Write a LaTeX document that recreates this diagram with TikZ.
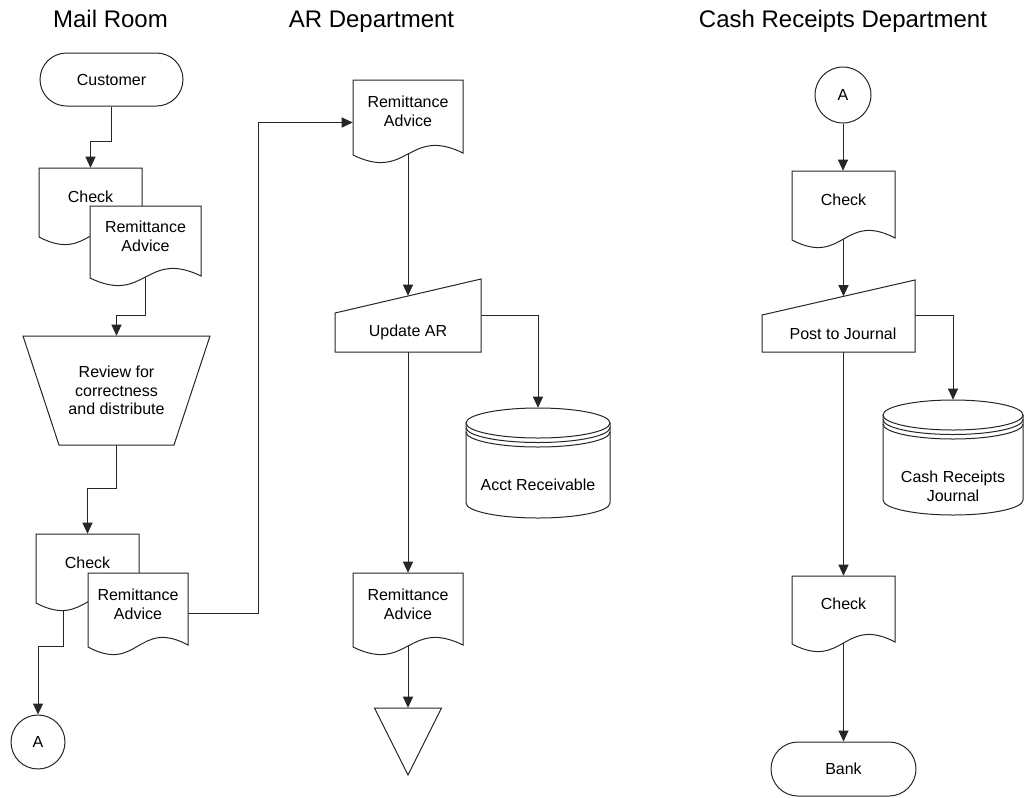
\documentclass[tikz,border=0pt]{standalone}
\usepackage{fontspec}
\setmainfont{Liberation Sans}
\usetikzlibrary{arrows.meta,calc,shapes.misc}
\pgfdeclarelayer{background}
\pgfdeclarelayer{shapes}
\pgfsetlayers{background,shapes,main}
\definecolor{linec}{gray}{0.15}
\tikzset{
  lbl/.style={font=\fontsize{12}{14.25}\selectfont, align=center, inner sep=0pt, text=black},
  hdr/.style={font=\fontsize{18}{21}\selectfont, anchor=base, inner sep=0pt, text=black},
  boxwh/.style 2 args={minimum width=#1*0.75pt, minimum height=#2*0.75pt},
  outline/.style={draw=linec, line width=0.75pt, fill=white, line join=miter},
  arcline/.style={draw=linec, line width=0.75pt},
  term/.style={lbl, rounded rectangle, draw=linec, line width=0.75pt, fill=white},
  conncircle/.style={lbl, circle, draw=linec, line width=0.75pt, fill=white},
  conn/.style={draw=linec, line width=0.75pt, -{Triangle[length=8.25pt,width=7.5pt]}},
}
% document outline: left, top, right, bottom-left
\newcommand\docout[4]{\path[outline] (#1,#2) -- (#3,#2) -- (#3,{#4-2})
  .. controls ({(#1+#3)/2},{#4-1-28}) and ({(#1+#3)/2},{#4-1+28}) .. (#1,#4) -- cycle;}
% disk outline: cx, rx, top, bottom (ry = 15)
\newcommand\diskout[4]{%
  \path[outline] ({#1-#2},{#3+15}) -- ({#1-#2},{#4-15})
    .. controls ({#1-#2},{#4-15+8.28}) and ({#1-0.5523*#2},#4) .. (#1,#4)
    .. controls ({#1+0.5523*#2},#4) and ({#1+#2},{#4-15+8.28}) .. ({#1+#2},{#4-15})
    -- ({#1+#2},{#3+15}) -- cycle;
  \path[outline] (#1,{#3+15}) ellipse[x radius={#2*0.75pt}, y radius={15*0.75pt}];
  \foreach \dd in {4.5,9}{%
    \path[arcline] ({#1-#2},{#3+15+\dd})
      .. controls ({#1-#2},{#3+15+\dd+8.28}) and ({#1-0.5523*#2},{#3+30+\dd}) .. (#1,{#3+30+\dd})
      .. controls ({#1+0.5523*#2},{#3+30+\dd}) and ({#1+#2},{#3+15+\dd+8.28}) .. ({#1+#2},{#3+15+\dd});}%
}
\begin{document}
\begin{tikzpicture}[x=0.75pt, y=-0.75pt]
\useasboundingbox (0,0) rectangle (1025,797);

% headers
\node[hdr] (h1) at (110.5,27) {Mail Room};
\node[hdr] (h2) at (371.5,27) {AR Department};
\node[hdr] (h3) at (843,27) {Cash Receipts Department};

% Mail room
\node[term, boxwh={143}{53}] (cust) at (111.5,79.5) {Customer};
\node[lbl, boxwh={103}{57}] (chk1) at (90.5,196.5) {Check};
\node[lbl, boxwh={111}{60}] (ra1) at (145.5,236) {Remittance\\Advice};
\node[lbl, boxwh={187}{109}, font=\fontsize{12}{13.9}\selectfont] (rev) at (116.5,390.5) {Review for\\correctness\\and distribute};
\node[lbl, boxwh={103}{57}] (chk2) at (87.5,562.5) {Check};
\node[lbl, boxwh={100}{62}] (ra2) at (138,604) {Remittance\\Advice};
\node[conncircle, minimum size=54*0.75pt] (conA1) at (38,742) {A};

% AR department
\node[lbl, boxwh={110}{63}] (ar1) at (408,111.5) {Remittance\\Advice};
\node[lbl, boxwh={146}{39}] (upd) at (408,332.5) {Update AR};
\node[lbl, boxwh={144}{66}] (arDisk) at (538,485) {Acct Receivable};
\node[lbl, boxwh={110}{62}] (ar2) at (408,604) {Remittance\\Advice};
\node[lbl, boxwh={67}{67}] (file) at (408,741.5) {};

% Cash receipts
\node[conncircle, minimum size=56*0.75pt] (conA2) at (843,95) {A};
\node[lbl, boxwh={103}{57}] (chk3) at (843.5,199.5) {Check};
\node[lbl, boxwh={144}{37}] (post) at (843,333.5) {Post to Journal};
\node[lbl, boxwh={140}{58}] (crj) at (953,486) {Cash Receipts\\Journal};
\node[lbl, boxwh={103}{56}] (chk4) at (843.5,604) {Check};
\node[term, boxwh={145}{54}] (bank) at (843.5,769) {Bank};

\begin{pgfonlayer}{shapes}
  \docout{39}{168}{142}{237}
  \docout{90}{206}{201}{278}
  \path[outline] (23,336) -- (210,336) -- (174,445) -- (59,445) -- cycle;
  \docout{36}{534}{139}{603}
  \docout{88}{573}{188}{647}
  \docout{353}{80}{463}{155}
  \path[outline] (335,313) -- (481,279) -- (481,352) -- (335,352) -- cycle;
  \diskout{538}{72}{408}{518}
  \docout{353}{573}{463}{647}
  \path[outline] (374.5,708) -- (441.5,708) -- (408,775) -- cycle;
  \docout{792}{171}{895}{240}
  \path[outline] (762,315) -- (915,280) -- (915,352) -- (762,352) -- cycle;
  \diskout{953}{70}{400}{515}
  \docout{792}{576}{895}{644}
\end{pgfonlayer}

\begin{pgfonlayer}{background}
  \draw[conn] (cust.south) -- ++(0,35) -| (chk1.north);
  \draw[conn] (ra1.center) |- ($(rev.north)+(0,-20)$) -- (rev.north);
  \draw[conn] (rev.south) -- ++(0,43) -| (chk2.north);
  \draw[conn] ($(ra2.east)+(0,9)$) -- ++(70,0) |- ($(ar1.west)+(0,11)$);
  \draw[conn] ($(chk2.south west)+(28,0)$) -- ++(0,55) -| (conA1.north);
  \draw[conn] (ar1.center) -- ($(ar1.center |- upd.north)+(0,-17)$);
  \draw[conn] ($(upd.north east)+(0,3)$) -| ($(arDisk.north)+(0,-44)$);
  \draw[conn] (upd.south) -- (ar2.north);
  \draw[conn] (ar2.center) -- (file.north);
  \draw[conn] (conA2.south) -- (conA2.south |- chk3.north);
  \draw[conn] (chk3.center) -- ($(chk3.center |- post.north)+(0,-18.5)$);
  \draw[conn] ($(post.north east)+(0,1)$) -| ($(crj.north)+(0,-57)$);
  \draw[conn] (chk4.north |- post.south) -- (chk4.north);
  \draw[conn] (chk4.center) -- (bank.north);
\end{pgfonlayer}
\end{tikzpicture}
\end{document}
